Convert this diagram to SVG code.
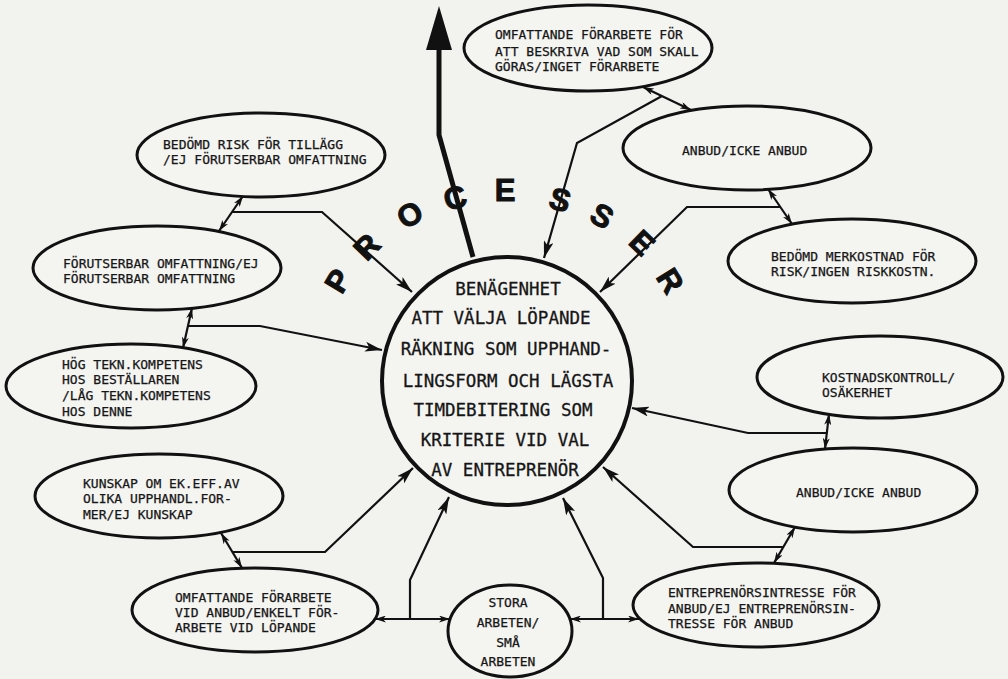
<svg xmlns="http://www.w3.org/2000/svg" width="1008" height="679" viewBox="0 0 1008 679">
<defs>
<style>
.bg{fill:#f2f2ef}
.node ellipse{fill:#f4f4f1;stroke:#111;stroke-width:3}
.t{font-family:"DejaVu Sans Mono","Liberation Mono",monospace;font-size:13px;fill:#161616;stroke:#161616;stroke-width:0.25}
.ct{font-family:"DejaVu Sans Mono","Liberation Mono",monospace;font-size:17.5px;fill:#161616;text-anchor:middle;stroke:#161616;stroke-width:0.3}
.c line,.c polyline{fill:none;stroke:#111;stroke-width:2.2}
.big{font-family:"Liberation Sans",Arial,sans-serif;font-weight:bold;font-size:31px;fill:#111;stroke:#111;stroke-width:1;text-anchor:middle;dominant-baseline:central}
</style>
<marker id="ah" viewBox="0 0 17 10" refX="17" refY="5" markerWidth="17" markerHeight="10" markerUnits="userSpaceOnUse" orient="auto-start-reverse"><path d="M0,0 L17,5 L0,10 L4,5 z" fill="#111"/></marker>
<marker id="as" viewBox="0 0 11 7" refX="11" refY="3.5" markerWidth="11" markerHeight="7" markerUnits="userSpaceOnUse" orient="auto-start-reverse"><path d="M0,0 L11,3.5 L0,7 L3,3.5 z" fill="#111"/></marker>
</defs>
<rect class="bg" x="0" y="0" width="1008" height="679"/>

<g id="processer">
<text class="big" transform="translate(338,281) rotate(-59)">P</text>
<text class="big" transform="translate(367,247) rotate(-46)">R</text>
<text class="big" transform="translate(410,215) rotate(-30)">O</text>
<text class="big" transform="translate(455,198) rotate(-16)">C</text>
<text class="big" transform="translate(505,190)">E</text>
<text class="big" transform="translate(560,200) rotate(16)">S</text>
<text class="big" transform="translate(602,216) rotate(30)">S</text>
<text class="big" transform="translate(642,243) rotate(44)">E</text>
<text class="big" transform="translate(670,281) rotate(58)">R</text>
</g>

<g id="connectors" class="c">
<polyline points="473,257 439,135 439,48" style="stroke-width:5"/>
<polygon points="439,6 452,50 426,50" fill="#111"/>
<line x1="643" y1="87" x2="691" y2="110" marker-start="url(#as)" marker-end="url(#as)"/>
<polyline points="662,96 577,143 544,258" marker-end="url(#ah)"/>
<line x1="768" y1="189" x2="792" y2="224" marker-start="url(#as)" marker-end="url(#as)"/>
<polyline points="780,207 687,207 600,292" marker-end="url(#ah)"/>
<line x1="829" y1="414" x2="825" y2="449" marker-start="url(#as)" marker-end="url(#as)"/>
<polyline points="827,433 748,433 632,408" marker-end="url(#ah)"/>
<line x1="795" y1="527" x2="774" y2="563" marker-start="url(#as)" marker-end="url(#as)"/>
<polyline points="783,547 693,547 603,467" marker-end="url(#ah)"/>
<line x1="570" y1="619" x2="639" y2="619" marker-start="url(#as)" marker-end="url(#as)"/>
<polyline points="603,619 603,578 563,498" marker-end="url(#ah)"/>
<line x1="375" y1="619" x2="450" y2="619" marker-start="url(#as)" marker-end="url(#as)"/>
<polyline points="410,619 410,580 449,497" marker-end="url(#ah)"/>
<line x1="221" y1="533" x2="242" y2="568" marker-start="url(#as)" marker-end="url(#as)"/>
<polyline points="232,552 325,552 413,468" marker-end="url(#ah)"/>
<line x1="192" y1="308" x2="183" y2="348" marker-start="url(#as)" marker-end="url(#as)"/>
<polyline points="188,326 260,326 382,350" marker-end="url(#ah)"/>
<line x1="243" y1="196" x2="219" y2="231" marker-start="url(#as)" marker-end="url(#as)"/>
<polyline points="232,212 322,212 412,292" marker-end="url(#ah)"/>
</g>

<g id="center" class="node">
<ellipse cx="507" cy="381" rx="125" ry="124" style="stroke-width:4"/>
<text class="ct" x="508" y="295">BENÄGENHET</text>
<text class="ct" x="501" y="324">ATT VÄLJA LÖPANDE</text>
<text class="ct" x="506" y="355">RÄKNING SOM UPPHAND-</text>
<text class="ct" x="508" y="387">LINGSFORM OCH LÄGSTA</text>
<text class="ct" x="503" y="416">TIMDEBITERING SOM</text>
<text class="ct" x="505" y="446">KRITERIE VID VAL</text>
<text class="ct" x="505" y="476">AV ENTREPRENÖR</text>
</g>

<g id="n1" class="node">
<ellipse cx="588" cy="48" rx="124" ry="43"/>
<text class="t" x="495" y="39">OMFATTANDE FÖRARBETE FÖR</text>
<text class="t" x="495" y="56">ATT BESKRIVA VAD SOM SKALL</text>
<text class="t" x="495" y="71">GÖRAS/INGET FÖRARBETE</text>
</g>

<g id="n2" class="node">
<ellipse cx="747" cy="148" rx="124" ry="42"/>
<text class="t" x="682" y="155">ANBUD/ICKE ANBUD</text>
</g>

<g id="n3" class="node">
<ellipse cx="852" cy="261" rx="124" ry="42"/>
<text class="t" x="771" y="261">BEDÖMD MERKOSTNAD FÖR</text>
<text class="t" x="771" y="276">RISK/INGEN RISKKOSTN.</text>
</g>

<g id="n4" class="node">
<ellipse cx="880" cy="377" rx="123" ry="41"/>
<text class="t" x="822" y="382">KOSTNADSKONTROLL/</text>
<text class="t" x="822" y="397">OSÄKERHET</text>
</g>

<g id="n5" class="node">
<ellipse cx="853" cy="490" rx="124" ry="42"/>
<text class="t" x="796" y="497">ANBUD/ICKE ANBUD</text>
</g>

<g id="n6" class="node">
<ellipse cx="756" cy="605" rx="123" ry="42"/>
<text class="t" x="668" y="597">ENTREPRENÖRSINTRESSE FÖR</text>
<text class="t" x="668" y="613">ANBUD/EJ ENTREPRENÖRSIN-</text>
<text class="t" x="668" y="628">TRESSE FÖR ANBUD</text>
</g>

<g id="n7" class="node">
<ellipse cx="510" cy="631" rx="62" ry="46"/>
<text class="t" x="508" y="607" text-anchor="middle">STORA</text>
<text class="t" x="508" y="627" text-anchor="middle">ARBETEN/</text>
<text class="t" x="508" y="647" text-anchor="middle">SMÅ</text>
<text class="t" x="508" y="666" text-anchor="middle">ARBETEN</text>
</g>

<g id="n8" class="node">
<ellipse cx="255" cy="610" rx="123" ry="42"/>
<text class="t" x="175" y="602">OMFATTANDE FÖRARBETE</text>
<text class="t" x="175" y="617">VID ANBUD/ENKELT FÖR-</text>
<text class="t" x="175" y="632">ARBETE VID LÖPANDE</text>
</g>

<g id="n9" class="node">
<ellipse cx="159" cy="496" rx="124" ry="42"/>
<text class="t" x="83" y="488">KUNSKAP OM EK.EFF.AV</text>
<text class="t" x="83" y="503">OLIKA UPPHANDL.FOR-</text>
<text class="t" x="83" y="519">MER/EJ KUNSKAP</text>
</g>

<g id="n10" class="node">
<ellipse cx="131" cy="386" rx="125" ry="42"/>
<text class="t" x="62" y="369">HÖG TEKN.KOMPETENS</text>
<text class="t" x="62" y="384">HOS BESTÄLLAREN</text>
<text class="t" x="62" y="400">/LÅG TEKN.KOMPETENS</text>
<text class="t" x="62" y="416">HOS DENNE</text>
</g>

<g id="n11" class="node">
<ellipse cx="157" cy="268" rx="124" ry="42"/>
<text class="t" x="63" y="268">FÖRUTSERBAR OMFATTNING/EJ</text>
<text class="t" x="63" y="283">FÖRUTSERBAR OMFATTNING</text>
</g>

<g id="n12" class="node">
<ellipse cx="261" cy="155" rx="124" ry="42"/>
<text class="t" x="163" y="149">BEDÖMD RISK FÖR TILLÄGG</text>
<text class="t" x="163" y="164">/EJ FÖRUTSERBAR OMFATTNING</text>
</g>
</svg>
